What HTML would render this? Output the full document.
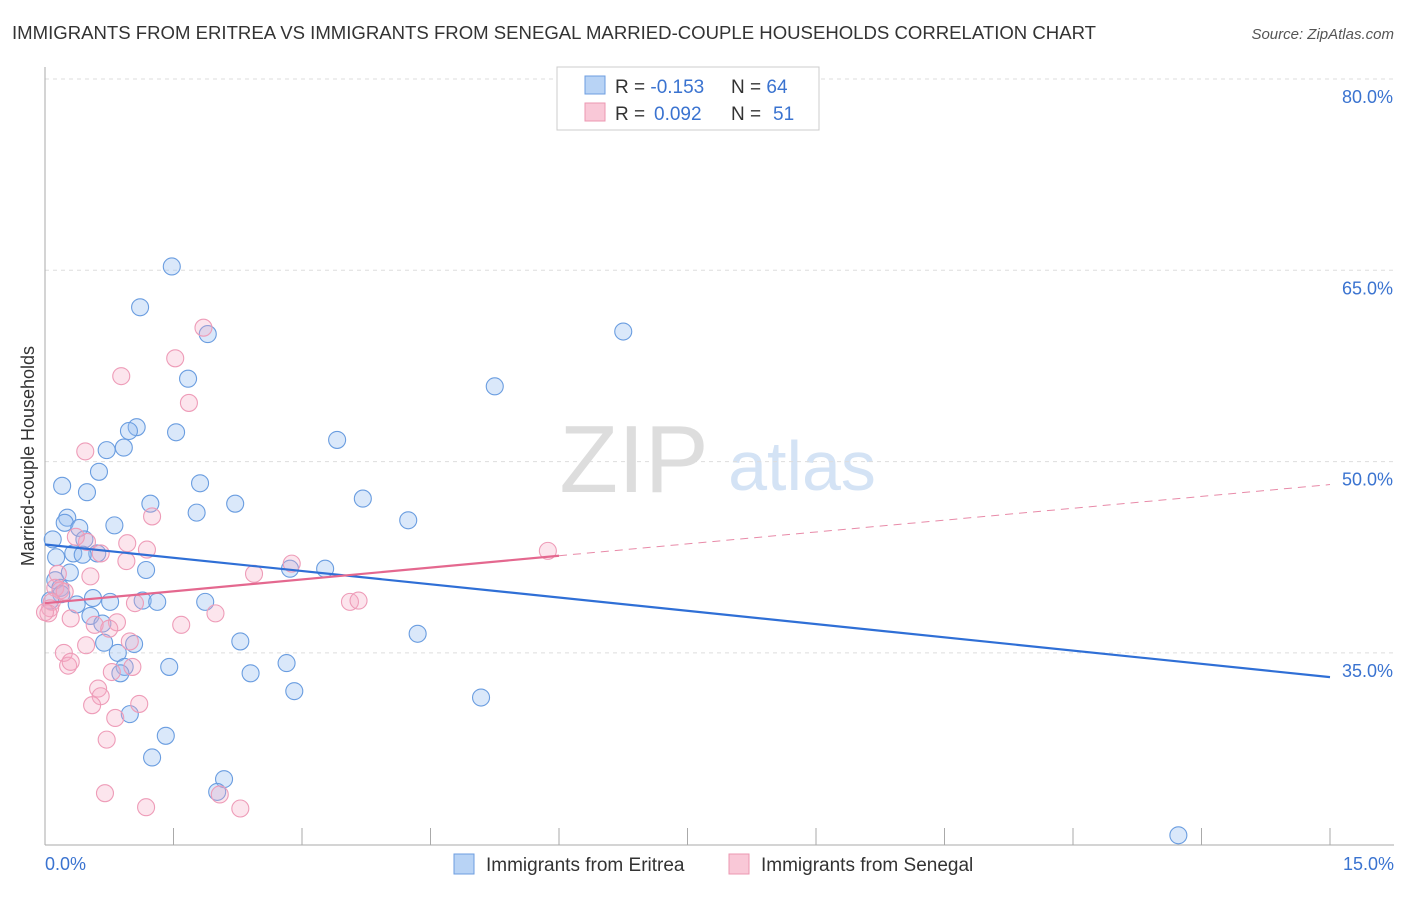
<!DOCTYPE html>
<html><head><meta charset="utf-8"><style>
body{margin:0;background:#fff;font-family:"Liberation Sans",sans-serif;}
svg text{font-family:"Liberation Sans",sans-serif;}
</style></head><body>
<svg id="chart" width="1406" height="892">
<text x="12" y="39" font-size="18" fill="#333" textLength="1084" lengthAdjust="spacingAndGlyphs">IMMIGRANTS FROM ERITREA VS IMMIGRANTS FROM SENEGAL MARRIED-COUPLE HOUSEHOLDS CORRELATION CHART</text>
<text x="1394" y="39" font-size="15" fill="#555" font-style="italic" text-anchor="end">Source: ZipAtlas.com</text>
<text x="634" y="492" font-size="96" fill="#ddd" font-family="Liberation Serif" text-anchor="middle">ZIP</text>
<text x="802" y="490" font-size="70" fill="#d4e3f5" text-anchor="middle">atlas</text>
<g id="grid"></g>
<g id="axes"></g>
<g id="pts"></g>
<g id="lines"></g>
<text transform="translate(34,456) rotate(-90)" font-size="18" fill="#333" text-anchor="middle">Married-couple Households</text>
<text x="45" y="870" font-size="18" fill="#3a73d0">0.0%</text>
<text x="1394" y="870" font-size="18" fill="#3a73d0" text-anchor="end">15.0%</text>
<g>
<rect x="557" y="67" width="262" height="63" fill="#fff" stroke="#ccc"/>
<rect x="585" y="76" width="20" height="18" fill="#b8d3f5" stroke="#6d9ee0"/>
<rect x="585" y="103" width="20" height="18" fill="#f9c8d7" stroke="#ec97b2"/>
<text x="615" y="93" font-size="19" fill="#333">R = <tspan fill="#3a73d0">-0.153</tspan><tspan x="731">N = </tspan><tspan fill="#3a73d0">64</tspan></text>
<text x="615" y="120" font-size="19" fill="#333">R = <tspan fill="#3a73d0" x="654">0.092</tspan><tspan x="731">N = </tspan><tspan fill="#3a73d0" x="773">51</tspan></text>
</g>
<g>
<rect x="454" y="854" width="20" height="20" fill="#b8d3f5" stroke="#6d9ee0"/>
<text x="486" y="871" font-size="19" fill="#333">Immigrants from Eritrea</text>
<rect x="729" y="854" width="20" height="20" fill="#f9c8d7" stroke="#ec97b2"/>
<text x="761" y="871" font-size="19" fill="#333">Immigrants from Senegal</text>
</g>
</svg>
<script>
const yTicks=[80,65,50,35];
const xTickVals=[0,1.5,3,4.5,6,7.5,9,10.5,12,13.5,15];
const eritreaX=[1.48,1.11,1.90,6.75,1.67,5.25,1.07,0.98,1.53,3.41,0.72,0.92,0.63,0.2,0.49,1.81,1.23,2.22,3.71,1.77,4.24,0.26,0.23,0.4,0.81,0.09,0.46,0.33,0.13,0.61,0.44,1.18,2.86,3.27,0.29,0.12,0.18,0.19,0.06,0.56,0.76,0.37,1.14,1.31,1.87,0.53,0.67,0.69,1.04,2.28,4.35,0.85,0.93,0.88,1.45,2.4,2.82,2.91,5.09,0.99,1.41,1.25,2.09,2.01,13.23];
const eritreaY=[65.3,62.1,60.0,60.2,56.5,55.9,52.7,52.4,52.3,51.7,50.9,51.1,49.2,48.1,47.6,48.3,46.7,46.7,47.1,46.0,45.4,45.6,45.2,44.8,45.0,43.9,43.9,42.8,42.5,42.8,42.7,41.5,41.6,41.6,41.3,40.7,40.1,39.6,39.1,39.3,39.0,38.8,39.1,39.0,39.0,37.9,37.3,35.8,35.7,35.9,36.5,35.0,33.9,33.4,33.9,33.4,34.2,32.0,31.5,30.2,28.5,26.8,25.1,24.1,20.7];
const senegalX=[1.85,1.52,0.89,1.68,0.47,1.25,0.96,1.19,0.65,0.49,0.36,0.95,2.88,2.44,0.53,0.15,0.12,0.18,0.23,0.08,0.06,0.04,0.0,0.30,1.05,1.99,1.59,0.84,0.58,0.75,3.56,3.66,5.87,0.48,0.99,0.22,0.27,0.30,1.02,0.78,0.62,0.65,0.55,1.10,0.82,0.72,0.70,1.18,2.04,2.28];
const senegalY=[60.5,58.1,56.7,54.6,50.8,45.7,43.6,43.1,42.8,43.7,44.1,42.2,42.0,41.2,41.0,41.2,40.1,39.9,39.8,39.0,38.5,38.1,38.2,37.7,38.9,38.1,37.2,37.4,37.2,36.9,39.0,39.1,43.0,35.6,35.9,35.0,34.0,34.3,33.9,33.5,32.2,31.6,30.9,31.0,29.9,28.2,24.0,22.9,23.9,22.8];
const eritreaTrend=[43.5,33.1];
const senegalTrend=[38.9,48.2];
const X0=45,X1=1330;
function xs(v){return X0+(v/15)*(X1-X0);}
function ys(v){return 79+(80-v)/15*191.3;}
const NS="http://www.w3.org/2000/svg";
function mk(tag,attrs,parent){const e=document.createElementNS(NS,tag);for(const k in attrs)e.setAttribute(k,attrs[k]);document.getElementById(parent).appendChild(e);return e;}
yTicks.forEach(t=>{
 const l=mk('line',{x1:45,x2:1394,y1:ys(t),y2:ys(t),stroke:'#ddd','stroke-dasharray':'4,4'},'grid');
 
 
 const tx=mk('text',{x:1393,y:ys(t)+24,'font-size':18,fill:'#3a73d0','text-anchor':'end'},'grid');
 tx.textContent=t.toFixed(1)+'%';
 
 
});
const ya=mk('line',{x1:45,x2:45,y1:67,y2:845,stroke:'#aaa'},'axes');


const xa=mk('line',{x1:45,x2:1394,y1:845,y2:845,stroke:'#aaa'},'axes');


xTickVals.forEach(t=>{
 const l=mk('line',{x1:xs(t),x2:xs(t),y1:828,y2:845,stroke:'#aaa'},'axes');
 
 
});
eritreaX.forEach((v,i)=>{
 const c=mk('circle',{cx:xs(v),cy:ys(eritreaY[i]),r:8.5,fill:'rgba(150,190,240,0.35)',stroke:'#6a9de0','stroke-width':1.1},'pts');
 
 
});
senegalX.forEach((v,i)=>{
 const c=mk('circle',{cx:xs(v),cy:ys(senegalY[i]),r:8.5,fill:'rgba(245,170,195,0.3)',stroke:'#ee9cb8','stroke-width':1.1},'pts');
 
 
});
const bl=mk('line',{x1:xs(0),y1:ys(eritreaTrend[0]),x2:xs(15),y2:ys(eritreaTrend[1]),stroke:'#2f6fd6','stroke-width':2.2},'lines');


const sAt=x=>senegalTrend[0]+(senegalTrend[1]-senegalTrend[0])*x/15;
const ps=mk('line',{x1:xs(0),y1:ys(sAt(0)),x2:xs(6),y2:ys(sAt(6)),stroke:'#e4688f','stroke-width':2.2},'lines');


const pd=mk('line',{x1:xs(6),y1:ys(sAt(6)),x2:xs(15),y2:ys(sAt(15)),stroke:'#e88aa8','stroke-width':1,'stroke-dasharray':'8,6'},'lines');


</script>
</body></html>
